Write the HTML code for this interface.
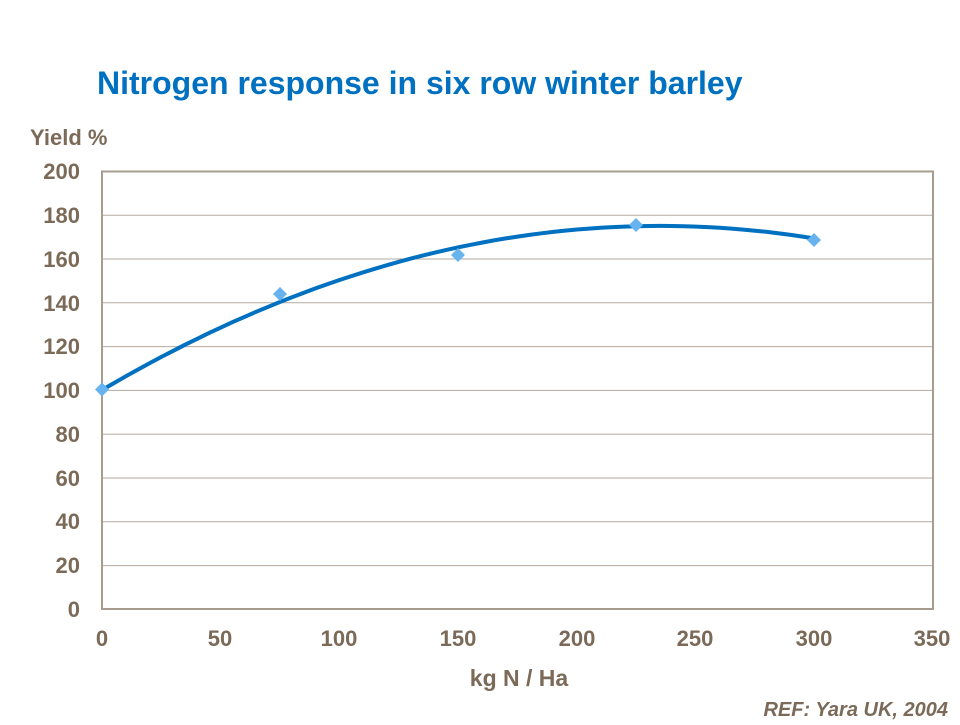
<!DOCTYPE html>
<html><head><style>
body{margin:0;background:#fff;width:960px;height:720px;overflow:hidden}
text{font-family:"Liberation Sans",Arial,sans-serif;font-weight:bold}
</style></head><body>
<svg width="960" height="720" viewBox="0 0 960 720">
<text x="97" y="94" font-size="32" fill="#0070c0">Nitrogen response in six row winter barley</text>
<text x="30" y="145" font-size="22" fill="#7b6a58">Yield %</text>
<g stroke="#b5aaa0" stroke-width="1">
<line x1="102" x2="933" y1="215.2" y2="215.2"/><line x1="102" x2="933" y1="259" y2="259"/>
<line x1="102" x2="933" y1="302.8" y2="302.8"/><line x1="102" x2="933" y1="346.6" y2="346.6"/>
<line x1="102" x2="933" y1="390.4" y2="390.4"/><line x1="102" x2="933" y1="434.2" y2="434.2"/>
<line x1="102" x2="933" y1="478" y2="478"/><line x1="102" x2="933" y1="521.8" y2="521.8"/>
<line x1="102" x2="933" y1="565.6" y2="565.6"/>
</g>
<rect x="102" y="171.5" width="831" height="437.5" fill="none" stroke="#a89c90" stroke-width="2"/>
<g font-size="22" fill="#7b6a58" text-anchor="end">
<text x="80" y="179">200</text><text x="80" y="223">180</text><text x="80" y="267">160</text>
<text x="80" y="311">140</text><text x="80" y="354">120</text><text x="80" y="398">100</text>
<text x="80" y="442">80</text><text x="80" y="486">60</text><text x="80" y="529">40</text>
<text x="80" y="573">20</text><text x="80" y="617">0</text>
</g>
<g font-size="22" fill="#7b6a58" text-anchor="middle">
<text x="102" y="646">0</text><text x="220" y="646">50</text><text x="339" y="646">100</text>
<text x="458" y="646">150</text><text x="577" y="646">200</text><text x="695" y="646">250</text>
<text x="814" y="646">300</text><text x="932" y="646">350</text>
<text x="519" y="686" font-size="23">kg N / Ha</text>
</g>
<text x="948" y="716" font-size="20" fill="#7b6a58" font-style="italic" text-anchor="end">REF: Yara UK, 2004</text>
<polyline id="c" fill="none" stroke="#0070c0" stroke-width="4" stroke-linecap="round" points=""/>
<g fill="#66b3f0">
<path d="M102 382.5l7 7-7 7-7-7z"/>
<path d="M280 287l7 7-7 7-7-7z"/>
<path d="M458 248l7 7-7 7-7-7z"/>
<path d="M636 218l7 7-7 7-7-7z"/>
<path d="M814 233l7 7-7 7-7-7z"/>
</g>
</svg>
<script>
var p=[];for(var x=0;x<=300;x+=5){var y=100+0.638*x-0.001358*x*x;p.push((102+x*2.375).toFixed(1)+","+(609-y*2.19).toFixed(1));}
document.getElementById("c").setAttribute("points",p.join(" "));
</script>
</body></html>
